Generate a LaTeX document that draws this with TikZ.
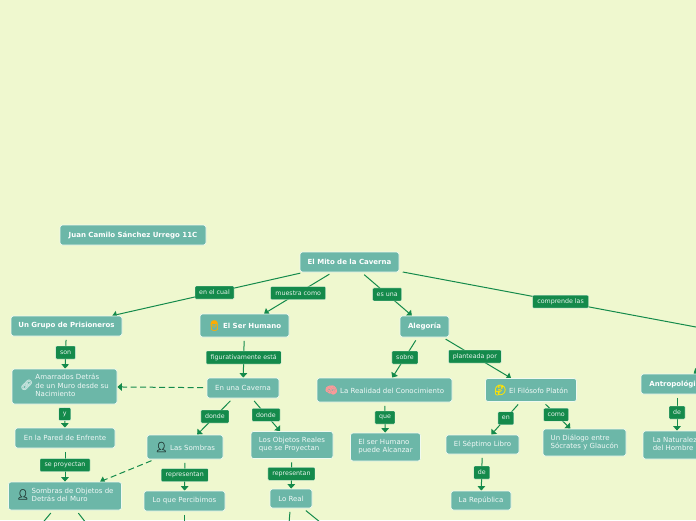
\documentclass[tikz,border=0pt]{standalone}
\usepackage{fontspec}
\setmainfont{DejaVu Sans}
\newfontfamily\emojifont[FakeBold=2.5]{Noto Emoji}
\usepackage{tikz}
\usetikzlibrary{arrows.meta, backgrounds}
\usepackage{xcolor}
\definecolor{mapbg}{RGB}{239, 248, 207}
\definecolor{mapteal}{RGB}{108, 183, 168}
\definecolor{mapgreen}{RGB}{20, 138, 75}
\definecolor{mapedge}{RGB}{240, 250, 240}
\newcommand{\icn}[2]{\textcolor{#1}{{\emojifont\fontsize{10}{10}\selectfont #2}}\hspace{2.5pt}}
\newcommand{\rows}[1]{\begin{tabular}[c]{@{}l@{}}#1\end{tabular}}

\begin{document}
\begin{tikzpicture}[
  x=1pt, y=-1pt,
  box/.style={rectangle, rounded corners=2.5pt, draw=mapedge, fill=mapteal, line width=0.7pt, text=white!90!mapteal, inner sep=0pt, align=left, font=\fontsize{7}{8.3}\selectfont},
  boxb/.style={box, text=white, font=\fontsize{7}{8.3}\selectfont\bfseries},
  lbl/.style={rectangle, rounded corners=1pt, draw=mapedge, fill=mapgreen, line width=0.3pt, text=white!90!mapgreen, inner sep=0pt, minimum height=13pt, font=\fontsize{6.3}{7}\selectfont},
  arr/.style={-{Triangle[length=4.5pt, width=7.5pt]}, color=mapgreen, line width=1pt, shorten <=3.5pt},
  ln/.style={color=mapgreen, line width=1pt, shorten <=3.5pt},
  dashln/.style={dash pattern=on 6pt off 3.5pt}
]
\clip (0,0) rectangle (696,520);

% level 0
\node[boxb, minimum width=146pt, minimum height=20pt] (author) at (133,235) {Juan Camilo Sánchez Urrego 11C};
\node[boxb, minimum width=99pt, minimum height=20pt] (mito) at (349.5,262) {El Mito de la Caverna};

% level 1
\node[boxb, minimum width=111pt, minimum height=20pt] (grupo) at (66.5,326) {Un Grupo de Prisioneros};
\node[boxb, minimum width=89pt, minimum height=23pt] (humano) at (244.5,325.5) {\icn{orange!65!yellow}{👨}El Ser Humano};
\node[boxb, minimum width=49pt, minimum height=21pt] (alegoria) at (424.5,326.5) {Alegoría};
\node[boxb, minimum width=72pt, minimum height=20pt] (antro) at (677,384) {Antropológica};

% left column
\node[box, minimum width=105pt, minimum height=35pt] (amarrados) at (64.5,386.5) {\icn{white!60!mapteal}{🔗}\rows{Amarrados Detrás\\de un Muro desde su\\Nacimiento}};
\node[box, minimum width=100pt, minimum height=20pt] (pared) at (65,438) {En la Pared de Enfrente};
\node[box, minimum width=113pt, minimum height=28pt] (sombobj) at (65,496) {\icn{black!60!mapteal}{👤}\rows{Sombras de Objetos de\\Detrás del Muro}};

% middle columns
\node[box, minimum width=72pt, minimum height=20pt] (caverna) at (243,388) {En una Caverna};
\node[box, minimum width=76pt, minimum height=24pt] (sombras) at (185,447) {\icn{black!60!mapteal}{👤}Las Sombras};
\node[box, minimum width=81pt, minimum height=20pt] (percibimos) at (184.5,501) {Lo que Percibimos};
\node[box, minimum width=82pt, minimum height=27pt] (objetos) at (292,445) {\rows{Los Objetos Reales\\que se Proyectan}};
\node[box, minimum width=42pt, minimum height=19pt] (real) at (291,498.5) {Lo Real};
\node[box, minimum width=135pt, minimum height=24pt] (realidad) at (384.5,390) {\icn{red!40!white}{🧠}La Realidad del Conocimiento};
\node[box, minimum width=70pt, minimum height=28pt] (alcanzar) at (385.5,447) {\rows{El ser Humano\\puede Alcanzar}};

% right columns
\node[box, minimum width=91pt, minimum height=23pt] (platon) at (531,390) {\icn{yellow!85!orange}{🤔}El Filósofo Platón};
\node[box, minimum width=73pt, minimum height=19pt] (libro) at (482.5,444.5) {El Séptimo Libro};
\node[box, minimum width=60pt, minimum height=19pt] (republica) at (481,500.5) {La República};
\node[box, minimum width=83pt, minimum height=27pt] (dialogo) at (584.5,442.5) {\rows{Un Diálogo entre\\Sócrates y Glaucón}};
\node[box, minimum width=68pt, minimum height=28pt] (naturaleza) at (677,445) {\rows{La Naturaleza\\del Hombre}};

% free ends past the page
\coordinate (outsombA) at (42,523.6);
\coordinate (outsombB) at (90,528);
\coordinate (outperc) at (184.5,530);
\coordinate (outrealA) at (288.5,530);
\coordinate (outrealB) at (331,531);
\coordinate (outcomp) at (900,365.3);
\coordinate (outantro) at (837,284);

\begin{scope}[on background layer]
\fill[mapbg] (0,0) rectangle (696,520);

\draw[arr] (mito) -- node[lbl, pos=0.466, minimum width=39pt] (lcual) {en el cual} (grupo);
\draw[arr] (mito) -- node[lbl, pos=0.5, minimum width=55pt] (lmuestra) {muestra como} (humano);
\draw[arr] (mito) -- node[lbl, pos=0.51, minimum width=29pt] (lesuna) {es una} (alegoria);
\draw[ln] (mito) -- node[lbl, pos=0.322, minimum width=56pt] (lcomp) {comprende las} (outcomp);
\draw[arr, shorten <=0pt] (outantro) -- (antro);

\draw[arr] (grupo) -- node[lbl, minimum width=20pt] (lson) {son} (amarrados);
\draw[arr] (amarrados) -- node[lbl, pos=0.42, minimum width=12pt] (ly) {y} (pared);
\draw[arr] (pared) -- node[lbl, minimum width=50pt] (lproy) {se proyectan} (sombobj);
\draw[ln] (sombobj) -- (outsombA);
\draw[ln] (sombobj) -- (outsombB);

\draw[arr] (humano) -- node[lbl, minimum width=75pt] (lfig) {figurativamente está} (caverna);
\draw[arr, dashln] (caverna) -- (amarrados);
\draw[arr] (caverna) -- node[lbl, minimum width=28pt] (ldondeA) {donde} (sombras);
\draw[arr] (caverna) -- node[lbl, minimum width=28pt] (ldondeB) {donde} (objetos);
\draw[arr, dashln] (sombras) -- (sombobj);
\draw[arr] (sombras) -- node[lbl, minimum width=47pt] (lrepA) {representan} (percibimos);
\draw[ln] (percibimos) -- (outperc);
\draw[arr] (objetos) -- node[lbl, minimum width=47pt] (lrepB) {representan} (real);
\draw[ln] (real) -- (outrealA);
\draw[ln] (real) -- (outrealB);

\draw[arr] (alegoria) -- node[lbl, minimum width=26pt] (lsobre) {sobre} (realidad);
\draw[arr] (alegoria) -- node[lbl, pos=0.47, minimum width=53pt] (lplant) {planteada por} (platon);
\draw[arr] (realidad) -- node[lbl, minimum width=20pt] (lque) {que} (alcanzar);
\draw[arr] (platon) -- node[lbl, minimum width=16pt] (len) {en} (libro);
\draw[arr] (platon) -- node[lbl, pos=0.48, minimum width=25pt] (lcomo) {como} (dialogo);
\draw[arr] (libro) -- node[lbl, minimum width=16pt] (lde) {de} (republica);
\draw[arr] (antro) -- node[lbl, minimum width=16pt] (ldeB) {de} (naturaleza);
\end{scope}

\end{tikzpicture}
\end{document}
